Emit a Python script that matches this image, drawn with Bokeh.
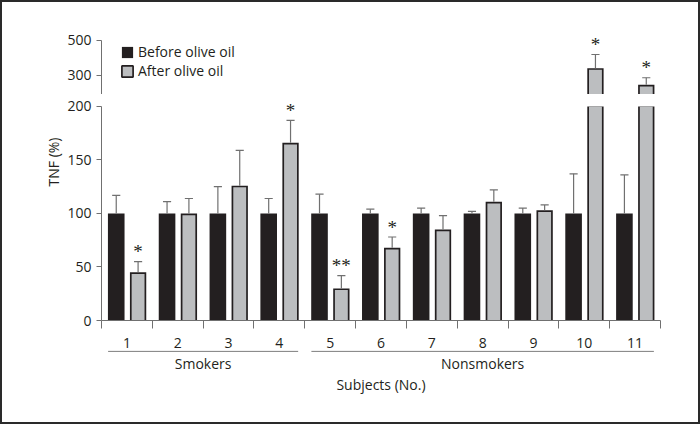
import numpy as np
from bokeh.plotting import figure
from bokeh.models import (ColumnDataSource, Range1d, FixedTicker, Legend, LegendItem,
                          Title, LabelSet)
from bokeh.layouts import column
from bokeh.embed import file_html
from bokeh.resources import INLINE
from bokeh.core.properties import value

# ---- data ----
subjects = ["1", "2", "3", "4", "5", "6", "7", "8", "9", "10", "11"]
before_mean = [100, 100, 100, 100, 100, 100, 100, 100, 100, 100, 100]
before_err = [17, 11, 25, 14, 18, 4, 5, 2, 5, 37, 36]
after_mean = [45, 100, 126, 166, 30, 68, 85, 111, 103, 342, 247]
after_err = [10, 14, 33, 21, 12, 10, 13, 11, 5, 78, 40]
marks = ["*", "", "", "*", "**", "*", "", "", "", "*", "*"]
groups = ["Smokers", "Nonsmokers"]
group_first = [1, 5]
group_last = [4, 11]
low_ticks = [0, 50, 100, 150, 200]
high_ticks = [300, 500]
axis_break = 191.6
series_names = ["Before olive oil", "After olive oil"]

FONT = "Open Sans"
INK = "#231f20"
GREY = "#bcbec0"
AXC = "#707070"
FS = "14px"

pos = np.arange(1, len(subjects) + 1)
bm = np.array(before_mean, float)
am = np.array(after_mean, float)
bt = bm + np.array(before_err, float)
at = am + np.array(after_err, float)
xb = pos - 0.21
xa = pos + 0.22
cap = 0.08
src = ColumnDataSource(dict(
    xb=xb, xa=xa, bm=bm, am=am, bt=bt, at=at,
    xb0=xb - cap, xb1=xb + cap, xa0=xa - cap, xa1=xa + cap,
))

x_range = Range1d(0.5, len(subjects) + 0.5)
W_BLACK = 0.327
W_OUT = 0.321
W_IN = 0.254
EDGE_PX = 1.7


def draw(p, ppu, lo, hi):
    """ppu: pixels per y unit of this panel; lo/hi: value span of this part of the broken axis."""
    rb = p.vbar(x="xb", top="bm", bottom=0, width=W_BLACK, source=src,
                fill_color=INK, line_color=None)
    seg = ColumnDataSource(dict(xa=xa, outer=np.minimum(am, hi),
                                inner=np.minimum(am - EDGE_PX / ppu, hi)))
    p.vbar(x="xa", top="outer", bottom=0, width=W_OUT, source=seg,
           fill_color=INK, line_color=None)
    p.vbar(x="xa", top="inner", bottom=0, width=W_IN, source=seg,
           fill_color=GREY, line_color=None)
    for x, x0, x1, m, t in (("xb", "xb0", "xb1", "bm", "bt"), ("xa", "xa0", "xa1", "am", "at")):
        p.segment(x0=x, y0=m, x1=x, y1=t, source=src, line_color=AXC, line_width=1.2)
        p.segment(x0=x0, y0=t, x1=x1, y1=t, source=src, line_color=AXC, line_width=1.2)
    keep = [i for i, mk in enumerate(marks) if mk and lo < at[i] <= hi]
    ssrc = ColumnDataSource(dict(x=[xa[i] for i in keep], y=[at[i] for i in keep],
                                 t=[marks[i] for i in keep]))
    p.add_layout(LabelSet(x="x", y="y", text="t", source=ssrc, text_align="center",
                          text_baseline="middle", y_offset=10, text_font=FONT,
                          text_font_size="19px", text_color=INK))
    return rb


def style_yaxis(ax):
    ax.axis_line_color = AXC
    ax.major_tick_line_color = AXC
    ax.minor_tick_line_color = AXC
    ax.major_tick_out = 5
    ax.major_tick_in = 0
    ax.major_label_text_font = FONT
    ax.major_label_text_font_size = FS
    ax.major_label_text_color = INK
    ax.major_label_standoff = 5


common = dict(width=696, x_range=x_range, min_border_left=99, min_border_right=38,
              toolbar_location=None, output_backend="svg", outline_line_color=None)

# ---- upper part of the broken axis ----
H1 = 92
y1 = Range1d(191.4, 717.1)
p1 = figure(height=H1, y_range=y1, min_border_top=0, min_border_bottom=0,
            x_axis_location=None, **common)
rb1 = draw(p1, H1 / (y1.end - y1.start), axis_break, 1e9)
p1.grid.visible = False
ay1 = p1.yaxis[0]
style_yaxis(ay1)
ay1.ticker = FixedTicker(ticks=high_ticks, minor_ticks=[axis_break])
ay1.bounds = (axis_break, max(high_ticks))
ay1.minor_tick_out = 4
ay1.minor_tick_in = 5

leg_a = p1.vbar(x="xa", top="am", width=W_OUT, source=src, fill_color=GREY,
                line_color=INK, line_width=EDGE_PX, visible=False)
legend = Legend(items=[LegendItem(label=series_names[0], renderers=[rb1]),
                       LegendItem(label=series_names[1], renderers=[leg_a])],
                location=(19, 14), background_fill_alpha=0, border_line_color=None,
                padding=0, margin=0, spacing=0, glyph_width=14, glyph_height=14,
                label_standoff=4, label_height=16, label_text_font=FONT,
                label_text_font_size=FS, label_text_color=INK)
p1.add_layout(legend)

# ---- lower part ----
FRAME2 = 222
TOP2 = 6
y2 = Range1d(0, 200 + TOP2 / 1.08)
p2 = figure(height=TOP2 + FRAME2 + 28, y_range=y2, min_border_top=TOP2,
            min_border_bottom=28, **common)
draw(p2, FRAME2 / (y2.end - y2.start), -1, max(low_ticks))
p2.grid.visible = False
ay2 = p2.yaxis[0]
style_yaxis(ay2)
ay2.ticker = FixedTicker(ticks=low_ticks)
ay2.bounds = (min(low_ticks), max(low_ticks))
ax2 = p2.xaxis[0]
ax2.ticker = FixedTicker(ticks=list(pos), minor_ticks=list(np.arange(0.5, len(subjects) + 1, 1.0)))
ax2.major_label_overrides = {int(i): s for i, s in zip(pos, subjects)}
ax2.axis_line_color = AXC
ax2.major_tick_out = 0
ax2.major_tick_in = 0
ax2.minor_tick_out = 8
ax2.minor_tick_in = 0
ax2.minor_tick_line_color = AXC
ax2.major_label_text_font = FONT
ax2.major_label_text_font_size = FS
ax2.major_label_text_color = INK
ax2.major_label_standoff = 9
p2.add_layout(Title(text="TNF (%)", align="right", offset=37, standoff=3, text_font=FONT,
                    text_font_size=FS, text_font_style="normal", text_color=INK), "left")

# ---- group labels ----
p3 = figure(height=72, y_range=Range1d(0, 24), min_border_top=0, min_border_bottom=48,
            y_axis_location=None, **common)
p3.grid.visible = False
gsrc = ColumnDataSource(dict(
    x0=np.array(group_first) - 0.5 + 0.13,
    x1=np.array(group_last) + 0.5 - 0.13,
    xc=(np.array(group_first) + np.array(group_last)) / 2.0,
    name=groups,
))
p3.segment(x0="x0", y0=23.2, x1="x1", y1=23.2, source=gsrc, line_color=AXC, line_width=1)
p3.text(x="xc", y=11, text="name", source=gsrc, text_align="center", text_baseline="middle",
        text_font=value(FONT), text_font_size=FS, text_color=INK)
ax3 = p3.xaxis[0]
ax3.ticker = FixedTicker(ticks=[])
ax3.axis_line_color = None
ax3.major_tick_out = 0
ax3.minor_tick_out = 0
ax3.axis_label = "Subjects (No.)"
ax3.axis_label_standoff = 0
ax3.axis_label_text_font = FONT
ax3.axis_label_text_font_size = FS
ax3.axis_label_text_font_style = "normal"
ax3.axis_label_text_color = INK

layout = column(p1, p2, p3, spacing=0, styles={"border": "2px solid #2a2a2a"})

open("out.html", "w").write(file_html(layout, INLINE))
